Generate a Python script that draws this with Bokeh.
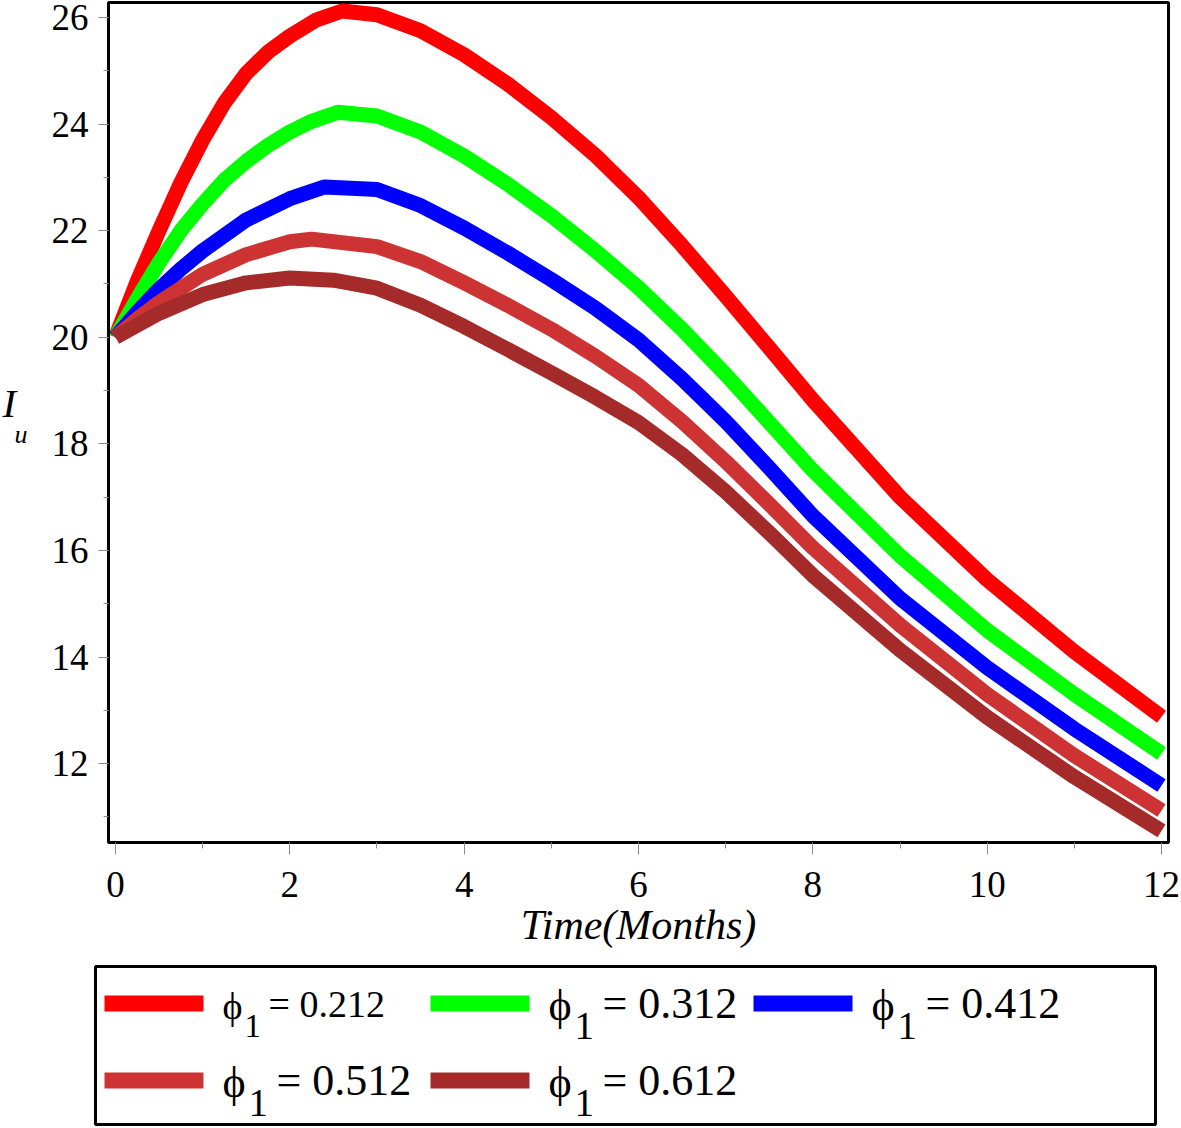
from bokeh.plotting import figure
from bokeh.models import Range1d, FixedTicker
from bokeh.layouts import column, row
from bokeh.embed import file_html
from bokeh.resources import INLINE
from bokeh.core.properties import value

# ---------------- data ----------------
t_212 = [0, 0.25, 0.5, 0.75, 1, 1.25, 1.5, 1.75, 2, 2.3, 2.6, 3, 3.5, 4, 4.5, 5, 5.5, 6, 6.5, 7, 7.5, 8,
         9, 10, 11, 12]
iu_212 = [20, 21.05, 22.0, 22.9, 23.7, 24.4, 24.95, 25.35, 25.65, 25.95, 26.12, 26.05, 25.75, 25.3, 24.75,
          24.12, 23.42, 22.62, 21.72, 20.77, 19.8, 18.82, 17.0, 15.45, 14.1, 12.88]

t_312 = [0, 0.25, 0.5, 0.75, 1, 1.25, 1.5, 1.75, 2, 2.25, 2.55, 3, 3.5, 4, 4.5, 5, 5.5, 6, 6.5, 7, 7.5, 8,
         9, 10, 11, 12]
iu_312 = [20, 20.72, 21.4, 22.0, 22.5, 22.95, 23.3, 23.6, 23.85, 24.05, 24.22, 24.15, 23.85, 23.4, 22.87,
          22.28, 21.63, 20.93, 20.15, 19.3, 18.4, 17.5, 15.9, 14.5, 13.3, 12.19]

t_412 = [0, 0.25, 0.5, 0.75, 1, 1.5, 2, 2.4, 3, 3.5, 4, 4.5, 5, 5.5, 6, 6.5, 7, 7.5, 8, 9, 10, 11, 12]
iu_412 = [20, 20.47, 20.9, 21.28, 21.62, 22.2, 22.6, 22.82, 22.77, 22.47, 22.05, 21.58, 21.08, 20.55, 19.95,
          19.22, 18.42, 17.55, 16.65, 15.1, 13.8, 12.65, 11.59]

t_512 = [0, 0.25, 0.5, 1, 1.5, 2, 2.25, 3, 3.5, 4, 4.5, 5, 5.5, 6, 6.5, 7, 7.5, 8, 9, 10, 11, 12]
iu_512 = [20, 20.34, 20.65, 21.18, 21.55, 21.79, 21.84, 21.7, 21.42, 21.02, 20.6, 20.15, 19.65, 19.1, 18.42,
          17.67, 16.87, 16.05, 14.6, 13.3, 12.15, 11.12]

t_612 = [0, 0.5, 1, 1.5, 2, 2.5, 3, 3.5, 4, 4.5, 5, 5.5, 6, 6.5, 7, 7.5, 8, 9, 10, 11, 12]
iu_612 = [20, 20.45, 20.8, 21.02, 21.11, 21.07, 20.92, 20.6, 20.2, 19.77, 19.33, 18.88, 18.4, 17.8, 17.1,
          16.33, 15.53, 14.13, 12.87, 11.75, 10.74]

phi_labels = ["0.212", "0.312", "0.412", "0.512", "0.612"]
series_t = [t_212, t_312, t_412, t_512, t_612]
series_iu = [iu_212, iu_312, iu_412, iu_512, iu_612]

x_ticks = [0, 2, 4, 6, 8, 10, 12]
x_minor = [1, 3, 5, 7, 9, 11]
y_ticks = [12, 14, 16, 18, 20, 22, 24, 26]
y_minor = [11, 13, 15, 17, 19, 21, 23, 25]

x_title = "Time(Months)"
y_title_main = "I"
y_title_sub = "u"

# ---------------- styles / layout constants ----------------
colors = ["#FF0000", "#00FF00", "#0000FF", "#CD3333", "#A52A2A"]
SERIF = "Liberation Serif"
W = 1180
H_MAIN = 964
H_LEG = 163
YT_W = 40          # width of the strip holding the y title
FRAME_L, FRAME_R, FRAME_T, FRAME_B = 108, 1168, 2, 842

y_rng = Range1d(10.52, 26.28)

p = figure(width=W - YT_W, height=H_MAIN, output_backend="svg", toolbar_location=None,
           x_range=Range1d(-0.08, 12.08), y_range=y_rng,
           min_border_left=FRAME_L - YT_W, min_border_right=W - FRAME_R, min_border_top=FRAME_T,
           min_border_bottom=H_MAIN - FRAME_B)
p.xgrid.visible = False
p.ygrid.visible = False
p.outline_line_color = "black"
p.outline_line_width = 3
p.background_fill_color = "white"
p.border_fill_color = "white"

for t, v, c in zip(series_t, series_iu, colors):
    p.line(t, v, line_color=c, line_width=15, line_join="round", line_cap="butt")

p.xaxis.ticker = FixedTicker(ticks=x_ticks, minor_ticks=x_minor)
p.yaxis.ticker = FixedTicker(ticks=y_ticks, minor_ticks=y_minor)
for ax in (p.xaxis, p.yaxis):
    ax.axis_line_color = "black"
    ax.axis_line_width = 3
    ax.major_tick_line_color = "#8c8c8c"
    ax.minor_tick_line_color = "#8c8c8c"
    ax.major_tick_in = 0
    ax.minor_tick_in = 0
    ax.major_label_text_font = SERIF
    ax.major_label_text_font_size = "37px"
    ax.major_label_text_color = "black"
p.xaxis.major_tick_out = 12
p.xaxis.minor_tick_out = 6
p.xaxis.major_label_standoff = 17
p.yaxis.major_tick_out = 10
p.yaxis.minor_tick_out = 5
p.yaxis.major_label_standoff = 10

p.xaxis.axis_label = x_title
p.xaxis.axis_label_text_font = SERIF
p.xaxis.axis_label_text_font_style = "italic"
p.xaxis.axis_label_text_font_size = "42px"
p.xaxis.axis_label_text_color = "black"
p.xaxis.axis_label_standoff = 2

# ---------------- y title strip (shares the y scale) ----------------
yt = figure(width=YT_W, height=H_MAIN, output_backend="svg", toolbar_location=None,
            x_range=Range1d(0, YT_W), y_range=y_rng,
            min_border_left=0, min_border_right=0, min_border_top=FRAME_T,
            min_border_bottom=H_MAIN - FRAME_B)
yt.axis.visible = False
yt.xgrid.visible = False
yt.ygrid.visible = False
yt.outline_line_color = None
yt.background_fill_color = "white"
yt.border_fill_color = "white"
yt.text(x=[2], y=[18.76], text=[y_title_main], text_font=value(SERIF), text_font_style=value("italic"),
        text_font_size=value("41px"), text_baseline="middle", text_align="left", text_color="black")
yt.text(x=[14], y=[18.17], text=[y_title_sub], text_font=value(SERIF), text_font_style=value("italic"),
        text_font_size=value("26px"), text_baseline="middle", text_align="left", text_color="black")

# ---------------- legend (separate pixel-space figure) ----------------
leg = figure(width=W, height=H_LEG, output_backend="svg", toolbar_location=None,
             x_range=Range1d(0, W), y_range=Range1d(H_LEG, 0),
             min_border_left=0, min_border_right=0, min_border_top=0, min_border_bottom=0)
leg.axis.visible = False
leg.xgrid.visible = False
leg.ygrid.visible = False
leg.outline_line_color = None
leg.background_fill_color = "white"
leg.border_fill_color = "white"

leg.quad(left=[95], right=[1155], top=[2], bottom=[160], fill_color=None,
         line_color="black", line_width=3)

slots = [(104, 39), (430, 39), (753, 39), (104, 116), (430, 116)]
font_sizes = [38, 44, 44, 44, 44]
for (sx, sy), c, lab, fs in zip(slots, colors, phi_labels, font_sizes):
    leg.segment(x0=[sx], y0=[sy], x1=[sx + 99], y1=[sy], line_color=c, line_width=16, line_cap="butt")
    tx = sx + 118
    leg.text(x=[tx], y=[sy + 2], text=["\u03d5"], text_font=value(SERIF), text_font_size=value(f"{fs}px"),
             text_baseline="middle", text_align="left", text_color="black")
    leg.text(x=[tx + round(0.58 * fs)], y=[sy + 22], text=["1"], text_font=value(SERIF),
             text_font_size=value(f"{round(fs * 0.88)}px"),
             text_baseline="middle", text_align="left", text_color="black")
    leg.text(x=[tx + round(1.22 * fs)], y=[sy], text=["= " + lab], text_font=value(SERIF),
             text_font_size=value(f"{fs}px"),
             text_baseline="middle", text_align="left", text_color="black")

layout = column(row(yt, p, spacing=0), row(leg), spacing=0)
open("out.html", "w").write(file_html(layout, INLINE))
